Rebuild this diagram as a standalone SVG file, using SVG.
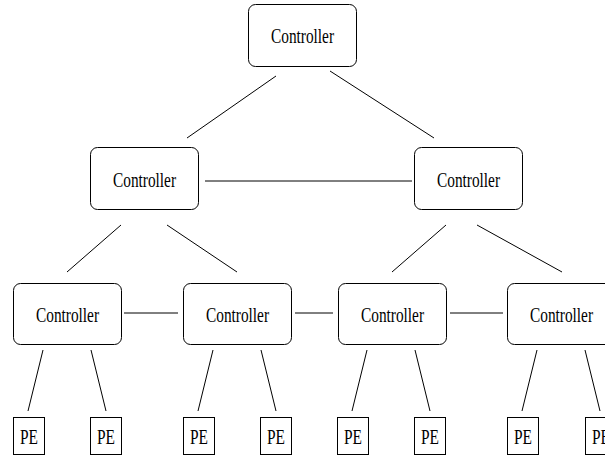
<svg xmlns="http://www.w3.org/2000/svg" width="605" height="456" viewBox="0 0 605 456">
<style>
.ctl{fill:#fff;stroke:#000;stroke-width:1}
.pe{fill:#fff;stroke:#000;stroke-width:1}
.t{font-family:"Liberation Serif","Times New Roman",serif;font-size:20px;fill:#000;text-anchor:middle}
.c line{stroke:#000;stroke-width:1}
</style>
<rect width="605" height="456" fill="#fff"/>
<g class="c" id="connectors">
<line x1="276" y1="76" x2="187" y2="138"/>
<line x1="330" y1="71" x2="434" y2="138"/>
<line x1="205" y1="181" x2="412" y2="181"/>
<line x1="121" y1="225" x2="67" y2="272"/>
<line x1="167" y1="225" x2="237" y2="272"/>
<line x1="446" y1="225" x2="392" y2="272"/>
<line x1="477" y1="225" x2="562" y2="272"/>
<line x1="124" y1="313" x2="178" y2="313"/>
<line x1="295" y1="313" x2="333" y2="313"/>
<line x1="450" y1="313" x2="503" y2="313"/>
<line x1="43" y1="350" x2="28" y2="411"/>
<line x1="91" y1="350" x2="106" y2="411"/>
<line x1="213" y1="350" x2="198" y2="411"/>
<line x1="261" y1="350" x2="276" y2="411"/>
<line x1="367" y1="350" x2="352" y2="411"/>
<line x1="415" y1="350" x2="430" y2="411"/>
<line x1="537" y1="350" x2="522" y2="411"/>
<line x1="585" y1="350" x2="600" y2="411"/>
</g>
<g id="ctl-top"><rect class="ctl" x="248.5" y="4.5" width="108" height="62" rx="7"/><text class="t" x="302.5" y="43" textLength="63" lengthAdjust="spacingAndGlyphs">Controller</text></g>
<g id="ctl-l"><rect class="ctl" x="90.5" y="147.5" width="108" height="62" rx="7"/><text class="t" x="144.5" y="187" textLength="63" lengthAdjust="spacingAndGlyphs">Controller</text></g>
<g id="ctl-r"><rect class="ctl" x="414.5" y="147.5" width="108" height="62" rx="7"/><text class="t" x="468.5" y="187" textLength="63" lengthAdjust="spacingAndGlyphs">Controller</text></g>
<g id="ctl-1"><rect class="ctl" x="13.5" y="283.5" width="108" height="61" rx="7"/><text class="t" x="67.5" y="321.5" textLength="63" lengthAdjust="spacingAndGlyphs">Controller</text></g>
<g id="ctl-2"><rect class="ctl" x="183.5" y="283.5" width="108" height="61" rx="7"/><text class="t" x="237.5" y="321.5" textLength="63" lengthAdjust="spacingAndGlyphs">Controller</text></g>
<g id="ctl-3"><rect class="ctl" x="338.5" y="283.5" width="108" height="61" rx="7"/><text class="t" x="392.5" y="321.5" textLength="63" lengthAdjust="spacingAndGlyphs">Controller</text></g>
<g id="ctl-4"><rect class="ctl" x="507.5" y="283.5" width="108" height="61" rx="7"/><text class="t" x="561.5" y="321.5" textLength="63" lengthAdjust="spacingAndGlyphs">Controller</text></g>
<g id="pe-1"><rect class="pe" x="13.5" y="417.5" width="31" height="37"/><text class="t" x="29" y="443.5" textLength="18" lengthAdjust="spacingAndGlyphs">PE</text></g>
<g id="pe-2"><rect class="pe" x="90.5" y="417.5" width="31" height="37"/><text class="t" x="106" y="443.5" textLength="18" lengthAdjust="spacingAndGlyphs">PE</text></g>
<g id="pe-3"><rect class="pe" x="183.5" y="417.5" width="31" height="37"/><text class="t" x="199" y="443.5" textLength="18" lengthAdjust="spacingAndGlyphs">PE</text></g>
<g id="pe-4"><rect class="pe" x="260.5" y="417.5" width="31" height="37"/><text class="t" x="276" y="443.5" textLength="18" lengthAdjust="spacingAndGlyphs">PE</text></g>
<g id="pe-5"><rect class="pe" x="337.5" y="417.5" width="31" height="37"/><text class="t" x="353" y="443.5" textLength="18" lengthAdjust="spacingAndGlyphs">PE</text></g>
<g id="pe-6"><rect class="pe" x="414.5" y="417.5" width="31" height="37"/><text class="t" x="430" y="443.5" textLength="18" lengthAdjust="spacingAndGlyphs">PE</text></g>
<g id="pe-7"><rect class="pe" x="507.5" y="417.5" width="31" height="37"/><text class="t" x="523" y="443.5" textLength="18" lengthAdjust="spacingAndGlyphs">PE</text></g>
<g id="pe-8"><rect class="pe" x="585.5" y="417.5" width="31" height="37"/><text class="t" x="601" y="443.5" textLength="18" lengthAdjust="spacingAndGlyphs">PE</text></g>
</svg>
